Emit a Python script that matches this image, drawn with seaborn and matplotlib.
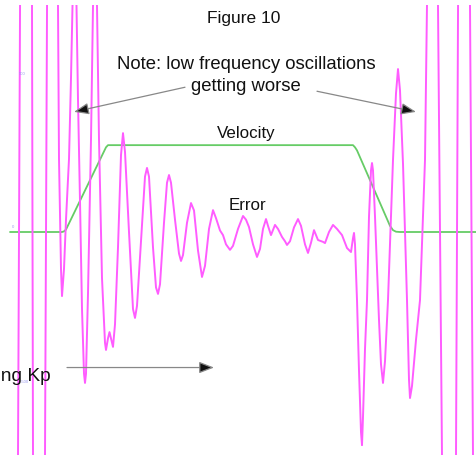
import matplotlib
matplotlib.use("Agg")
import matplotlib.pyplot as plt
import seaborn as sns
import pandas as pd

# ---- data (time in samples, values in axis units) ----
err_t = [10, 18, 20, 26, 32, 33, 39, 45, 47, 52, 58, 59, 61, 62, 64, 66, 69, 71, 72.5, 74.5,
         76.5, 78, 80, 82, 84, 85, 86, 88, 91, 93, 95, 97, 99, 102, 105, 106, 108, 109.5,
         111, 113, 115, 118, 121, 123, 125, 129, 133, 135, 137, 141, 145, 147, 149, 153,
         156, 158, 160, 164, 167, 169, 171, 175, 179, 181, 183, 187, 191, 194, 198, 202,
         205, 209, 213, 216, 220, 223, 226, 230, 233, 238, 243, 246, 249, 253, 257, 260,
         263, 266, 268, 271, 275, 278, 282, 285, 287, 290, 294, 298, 301, 305, 308, 311,
         314, 318, 323, 325, 329, 333, 337, 342, 345, 347, 351, 353, 354, 355, 357, 359,
         361, 362, 363, 365, 367, 369, 371, 372, 373, 375, 379, 381, 383, 385, 388, 393,
         396, 398, 400, 403, 405, 407, 409, 410, 412, 416, 420, 425, 427, 432, 438, 442,
         448, 456, 458, 464, 470, 473, 478]
err_v = [-2500, -727, 734, 2500, 734, -727, -2500, -727, 734, 2500, 734, 237, -120, -208, -120, 40, 237, 500, 734, 850,
         734, 429, 100, -250, -460, -490, -460, -200, 300, 734, 820, 734, 300, -150, -360, -383, -345, -325,
         -345, -373, -300, -50, 250, 321, 260, 0, -250, -279, -240, -30, 180, 208, 180, -50,
         -180, -201, -170, 30, 160, 185, 160, 40, -70, -94, -75, 30, 94, 70, -60, -146,
         -110, 10, 71, 45, 5, -10, -40, -58, -45, 10, 52, 40, 16, -40, -81, -55,
         10, 42, 20, -10, 23, 10, -16, -30, -42, -30, 15, 42, 20, -40, -68, -35,
         6, -26, -32, -36, 0, 23, 10, -10, -35, -52, -65, -20, -3, -40, -221, -450,
         -650, -692, -600, -380, -221, 50, 200, 224, 200, 50, -286, -430, -490, -420, -221, 234,
         450, 529, 460, 222, 0, -221, -480, -539, -500, -350, -221, 234, 734, 2500, 734, -727,
         -2500, -727, 734, 2500, 734, -727, -2500]

vel_t = [10, 62, 64, 66, 106, 108, 353, 355, 357, 390, 393, 396, 400, 476]
vel_v = [0, 0, 2, 8, 275, 282, 282, 275, 265, 20, 6, 1, 0, 0]

tick_vals = [500, 0, -500]
tick_labels = ["500", "0", "-500"]

sns.set_style("white")
plt.rcParams["font.family"] = ["Liberation Sans", "DejaVu Sans"]

fig = plt.figure(figsize=(4.76, 4.56), dpi=100)
ax = fig.add_axes([0, 0, 1, 450 / 456])

err_df = pd.DataFrame({"t": err_t, "v": err_v})
vel_df = pd.DataFrame({"t": vel_t, "v": vel_v})

sns.lineplot(data=vel_df, x="t", y="v", sort=False, estimator=None, ax=ax,
             color="#66cc66", lw=1.3)
sns.lineplot(data=err_df, x="t", y="v", sort=False, estimator=None, ax=ax,
             color="#ff5cff", lw=1.4)

ax.set_xlim(0, 476)
ax.set_ylim(-724, 737)
ax.axis("off")

# faint axis labels
tick_x = [22, 13, 25]
for tx, tv, tl in zip(tick_x, tick_vals, tick_labels):
    ax.text(tx, tv + 15 if tv != 0 else 20, tl, fontsize=3, color="#9a9aee",
            ha="center", va="center")

# texts
ax.text(244, 695, "Figure 10", fontsize=12.5, ha="center", va="center", color="#111")
ax.text(246, 548, "Note: low frequency oscillations", fontsize=13.3, ha="center",
        va="center", color="#111")
ax.text(246, 476, "getting worse", fontsize=13.3, ha="center", va="center", color="#111")
ax.text(246, 324, "Velocity", fontsize=12.2, ha="center", va="center", color="#111")
ax.text(247, 90, "Error", fontsize=12.2, ha="center", va="center", color="#111")
ax.text(51, -465, "Increasing Kp", fontsize=13.8, ha="right", va="center", color="#111")

# arrows
arrow_kw = dict(arrowstyle="-|>,head_length=0.9,head_width=0.35", color="#888888",
                lw=0.9, shrinkA=0, shrinkB=0)
for (x0, y0), (x1, y1) in [((185, 470), (74, 390)), ((317, 457), (416, 390)),
                           ((67, -440), (214, -440))]:
    a = ax.annotate("", xy=(x1, y1), xytext=(x0, y0), arrowprops=arrow_kw)
    a.arrow_patch.set_facecolor("#111111")

fig.savefig("out.png", dpi=100)
